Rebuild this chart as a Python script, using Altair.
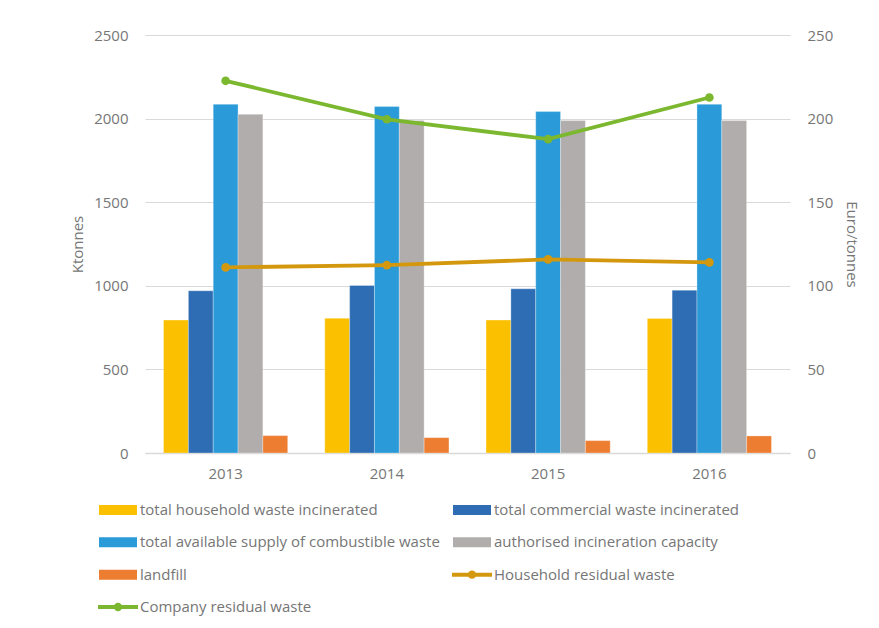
import altair as alt
import pandas as pd

years = ["2013", "2014", "2015", "2016"]
bar_series = [
    "total household waste incinerated",
    "total commercial waste incinerated",
    "total available supply of combustible waste",
    "authorised incineration capacity",
    "landfill",
]
household_incinerated = [795, 806, 795, 805]
commercial_incinerated = [970, 1002, 982, 974]
supply_combustible = [2086, 2072, 2042, 2086]
incineration_capacity = [2026, 1988, 1988, 1988]
landfill = [104, 92, 74, 102]

line_series = ["Household residual waste", "Company residual waste"]
household_residual = [111, 112.4, 115.8, 114]
company_residual = [222.6, 199.6, 187.7, 212.6]

bar_colors = ["#FBC000", "#2E6DB4", "#2A9BD8", "#B0ADAC", "#ED7D31"]
line_colors = ["#D4980F", "#7CB82F"]

bar_values = [household_incinerated, commercial_incinerated, supply_combustible,
              incineration_capacity, landfill]
bar_rows = []
for s, vals in zip(bar_series, bar_values):
    for y, v in zip(years, vals):
        bar_rows.append({"year": y, "series": s, "value": v})
bars_df = pd.DataFrame(bar_rows)

line_rows = []
for s, vals in zip(line_series, [household_residual, company_residual]):
    for y, v in zip(years, vals):
        line_rows.append({"year": y, "series": s, "value": v})
lines_df = pd.DataFrame(line_rows)

FONT = "Open Sans"
GREY = "#767676"
W, H = 645, 418

xscale = alt.Scale(domain=years, paddingInner=0.23, paddingOuter=0.115)
xaxis = alt.Axis(title=None, labelFontSize=15, labelColor=GREY, labelFont=FONT,
                 ticks=False, domainColor="#D9D9D9", domainWidth=1.5,
                 labelPadding=13, labelAngle=0)

bars = alt.Chart(bars_df).mark_bar(stroke="white", strokeWidth=0.5, strokeOpacity=0.6).encode(
    x=alt.X("year:N", scale=xscale, axis=xaxis),
    xOffset=alt.XOffset("series:N", scale=alt.Scale(domain=bar_series)),
    y=alt.Y("value:Q", scale=alt.Scale(domain=[0, 2500]),
            axis=alt.Axis(title="Ktonnes", values=[0, 500, 1000, 1500, 2000, 2500],
                          format="d",
                          labelFontSize=15, labelColor=GREY, labelFont=FONT,
                          titleFontSize=15, titleColor=GREY, titleFont=FONT,
                          titleFontWeight="normal", titlePadding=8,
                          ticks=False, domain=False, labelPadding=17,
                          grid=True, gridColor="#D9D9D9", gridWidth=1.2)),
    color=alt.Color("series:N", scale=alt.Scale(domain=bar_series, range=bar_colors),
                    legend=None),
)

line_base = alt.Chart(lines_df).encode(
    x=alt.X("year:N", scale=xscale, axis=xaxis),
    y=alt.Y("value:Q", scale=alt.Scale(domain=[0, 250]),
            axis=alt.Axis(title="Euro/tonnes", orient="right",
                          values=[0, 50, 100, 150, 200, 250], format="d",
                          labelFontSize=15, labelColor=GREY, labelFont=FONT,
                          titleFontSize=15, titleColor=GREY, titleFont=FONT,
                          titleFontWeight="normal", titlePadding=11,
                          ticks=False, domain=False, labelPadding=17, grid=False)),
    color=alt.Color("series:N", scale=alt.Scale(domain=line_series, range=line_colors),
                    legend=None),
    detail="series:N",
)
lines = line_base.mark_line(strokeWidth=3.8)
points = line_base.mark_circle(size=75, opacity=1)

main = alt.layer(bars, lines + points).resolve_scale(y="independent", color="independent")

# Manual legend (two columns, below the plot)
all_series = bar_series + line_series
all_colors = bar_colors + line_colors
leg_rows = []
for i, (s, c) in enumerate(zip(all_series, all_colors)):
    leg_rows.append({"label": s, "col": i % 2, "row": i // 2,
                     "kind": "bar" if i < len(bar_series) else "line", "color": c})
leg_df = pd.DataFrame(leg_rows)

lx = alt.Scale(domain=[0, 1], range=[-27, 327])
ly = alt.Scale(domain=[0, 3], range=[H + 57, H + 154])

leg_rect = alt.Chart(leg_df).transform_filter(alt.datum.kind == "bar").mark_rect(
    width=38, height=10).encode(
    x=alt.X("col:Q", scale=lx, axis=None),
    y=alt.Y("row:Q", scale=ly, axis=None),
    color=alt.Color("color:N", scale=None, legend=None),
)
leg_line = alt.Chart(leg_df).transform_filter(alt.datum.kind == "line").mark_rect(
    width=40, height=4).encode(
    x=alt.X("col:Q", scale=lx, axis=None),
    y=alt.Y("row:Q", scale=ly, axis=None),
    color=alt.Color("color:N", scale=None, legend=None),
)
leg_dot = alt.Chart(leg_df).transform_filter(alt.datum.kind == "line").mark_circle(
    size=70, opacity=1).encode(
    x=alt.X("col:Q", scale=lx, axis=None),
    y=alt.Y("row:Q", scale=ly, axis=None),
    color=alt.Color("color:N", scale=None, legend=None),
)
leg_text = alt.Chart(leg_df).mark_text(
    align="left", baseline="middle", dx=22, fontSize=15, font=FONT, color=GREY).encode(
    x=alt.X("col:Q", scale=lx, axis=None),
    y=alt.Y("row:Q", scale=ly, axis=None),
    text="label:N",
)
legend = alt.layer(leg_rect, leg_line, leg_dot, leg_text)

chart = alt.layer(main, legend).resolve_scale(
    x="independent", y="independent", color="independent"
).properties(
    width=W, height=H,
    autosize=alt.AutoSizeParams(type="none"),
    padding={"left": 137, "top": 27, "right": 80, "bottom": 167},
).configure_view(stroke=None)

chart.save("out.html", embed_options={"renderer": "svg", "actions": False})
